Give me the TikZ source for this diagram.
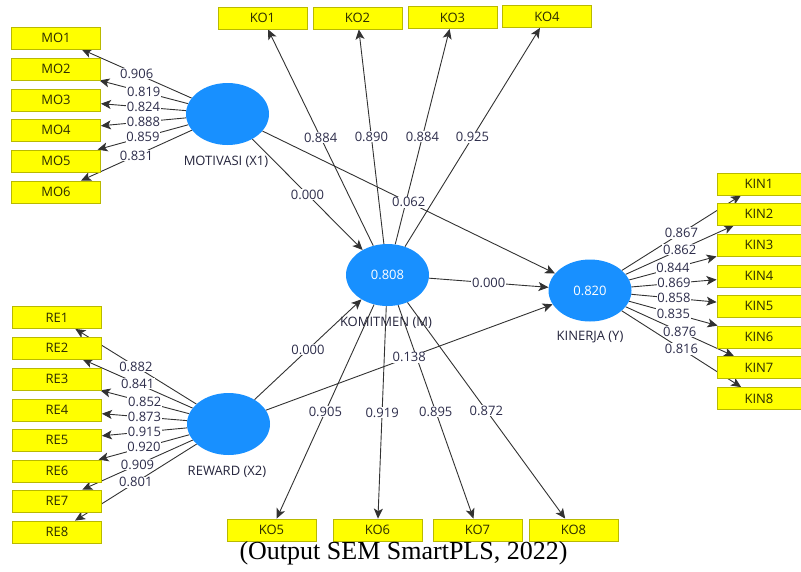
\documentclass[tikz,border=0pt]{standalone}
\usepackage{fontspec}
\setmainfont{Liberation Serif}
\newfontfamily\uifont{Open Sans}
\usetikzlibrary{shapes.geometric,arrows.meta,backgrounds}
\definecolor{boxfill}{RGB}{255,255,0}
\definecolor{boxdraw}{RGB}{185,185,0}
\definecolor{boxtext}{RGB}{45,45,0}
\definecolor{latfill}{RGB}{24,144,255}
\definecolor{numtext}{RGB}{45,45,75}
\definecolor{linecol}{RGB}{50,50,50}
\begin{document}
\begin{tikzpicture}[x=1pt,y=-1pt,
  ind/.style={draw=boxdraw, fill=boxfill, minimum width=89pt, minimum height=22pt,
    inner sep=0pt, line width=0.8pt, text=boxtext, font=\uifont\fontsize{13}{15}\selectfont},
  kinbox/.style={ind, minimum width=84pt},
  lat/.style={ellipse, fill=latfill, minimum width=83pt, minimum height=62pt,
    inner sep=0pt, text=white, font=\uifont\fontsize{13}{15}\selectfont},
  latname/.style={text=numtext!80!black, font=\uifont\fontsize{13}{15}\selectfont},
  num/.style={fill=white, inner sep=0.8pt, text=numtext, font=\uifont\fontsize{13}{15}\selectfont},
  conn/.style={draw=linecol, line width=0.9pt, -{Stealth[length=10pt,width=9pt,inset=2.5pt]}}]
\useasboundingbox (0,0) rectangle (801,571);

% latent variables
\node[lat] (mot) at (227.5,114) {};
\node[lat] (rew) at (228.5,424) {};
\node[lat] (kom) at (387.5,275) {0.808};
\node[lat] (kin) at (590,290.5) {0.820};

% indicators
\foreach \i/\y in {1/38,2/69,3/100,4/130,5/161,6/192}
  \node[ind] (mo\i) at (56,\y) {MO\i};
\foreach \i/\y in {1/317.5,2/348,3/379,4/410,5/440,6/471,7/501,8/532}
  \node[ind] (re\i) at (57,\y) {RE\i};
\foreach \i/\y in {1/184,2/214,3/245,4/276,5/306,6/337,7/367.5,8/398.5}
  \node[kinbox] (kn\i) at (759,\y) {KIN\i};
\node[ind] (ko1) at (262.5,18) {KO1};
\node[ind] (ko2) at (357.5,18) {KO2};
\node[ind] (ko3) at (452.5,17.5) {KO3};
\node[ind] (ko4) at (547,16.5) {KO4};
\node[ind] (ko5) at (271.5,530) {KO5};
\node[ind] (ko6) at (377.5,530) {KO6};
\node[ind] (ko7) at (477.5,530) {KO7};
\node[ind] (ko8) at (573.5,530) {KO8};

\node[font=\fontsize{26}{30}\selectfont] (cap) at (403.5,553) {(Output SEM SmartPLS, 2022)};

\begin{pgfonlayer}{background}
  \node[latname] (motname) at (226,162) {MOTIVASI (X1)};
  \node[latname] (rewname) at (227,472) {REWARD (X2)};
  \node[latname] (komname) at (386,323) {KOMITMEN (M)};
  \node[latname] (kinname) at (590,337) {KINERJA (Y)};

  \foreach \i/\v in {1/0.906,2/0.819,3/0.824,4/0.888,5/0.859,6/0.831}
    \draw[conn] (mot) -- node[num]{\v} (mo\i);
  \foreach \i/\v in {1/0.882,2/0.841,3/0.852,4/0.873,5/0.915,6/0.920,7/0.909,8/0.801}
    \draw[conn] (rew) -- node[num]{\v} (re\i);
  \foreach \i/\v in {1/0.867,2/0.862,3/0.844,4/0.869,5/0.858,6/0.835,7/0.876,8/0.816}
    \draw[conn] (kin) -- node[num]{\v} (kn\i);
  \foreach \i/\v in {1/0.884,2/0.890,3/0.884,4/0.925,5/0.905,6/0.919,7/0.895,8/0.872}
    \draw[conn] (kom) -- node[num]{\v} (ko\i);

  \draw[conn] (mot) -- node[num]{0.000} (kom);
  \draw[conn] (rew) -- node[num]{0.000} (kom);
  \draw[conn] (mot) -- node[num]{0.062} (kin);
  \draw[conn] (rew) -- node[num]{0.138} (kin);
  \draw[conn] (kom) -- node[num]{0.000} (kin);
\end{pgfonlayer}
\end{tikzpicture}
\end{document}
